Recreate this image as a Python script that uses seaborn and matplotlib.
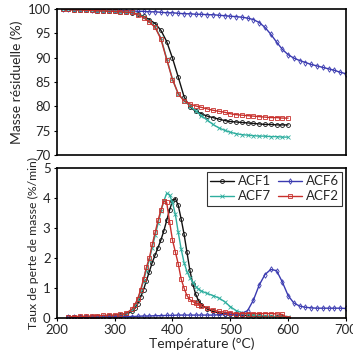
import numpy as np
import pandas as pd
import matplotlib
matplotlib.use("Agg")
import matplotlib.pyplot as plt
import seaborn as sns

# ---- mass loss (TG) ----
t_tg = [210, 220, 230, 240, 250, 260, 270, 280, 290, 300, 310, 320, 330, 340, 350,
        360, 370, 380, 390, 400, 410, 420, 430, 440, 450, 460, 470, 480, 490, 500,
        510, 520, 530, 540, 550, 560, 570, 580, 590, 600]
tg_acf1 = [100, 99.9, 99.8, 99.8, 99.7, 99.7, 99.6, 99.6, 99.5, 99.5, 99.4, 99.3, 99.2, 98.9, 98.5,
           97.8, 97.0, 95.6, 93.3, 89.9, 86.0, 82.0, 79.9, 79.0, 78.5, 78.0, 77.7, 77.4, 77.1, 76.9,
           76.8, 76.7, 76.6, 76.5, 76.4, 76.3, 76.3, 76.2, 76.2, 76.2]
tg_acf2 = [100, 99.9, 99.8, 99.8, 99.7, 99.7, 99.6, 99.6, 99.5, 99.5, 99.4, 99.3, 99.3, 98.8, 98.2,
           97.3, 96.2, 93.8, 89.6, 85.5, 82.6, 81.1, 80.5, 80.1, 79.8, 79.5, 79.2, 79.0, 78.8, 78.5,
           78.3, 78.2, 78.1, 78.0, 77.9, 77.8, 77.7, 77.7, 77.6, 77.6]
tg_acf7 = [100, 99.9, 99.8, 99.8, 99.7, 99.7, 99.6, 99.6, 99.5, 99.5, 99.4, 99.3, 99.3, 98.9, 98.3,
           97.5, 96.3, 94.0, 89.8, 85.6, 82.5, 81.2, 80.1, 79.1, 78.1, 77.2, 76.3, 75.6, 75.1, 74.7,
           74.4, 74.2, 74.1, 74.0, 73.9, 73.9, 73.8, 73.8, 73.7, 73.7]
t_tg6 = [210, 220, 230, 240, 250, 260, 270, 280, 290, 300, 310, 320, 330, 340, 350, 360,
         370, 380, 390, 400, 410, 420, 430, 440, 450, 460, 470, 480, 490, 500, 510, 520,
         530, 540, 550, 560, 570, 580, 590, 600, 610, 620, 630, 640, 650, 660, 670, 680,
         690, 700]
tg_acf6 = [100, 100, 99.9, 99.9, 99.9, 99.8, 99.8, 99.8, 99.7, 99.7, 99.7, 99.6, 99.6, 99.5, 99.5, 99.4,
           99.4, 99.3, 99.2, 99.2, 99.1, 99.0, 99.0, 98.9, 98.9, 98.8, 98.8, 98.7, 98.6, 98.5, 98.4, 98.3,
           98.1, 97.8, 97.2, 96.2, 94.8, 93.2, 91.7, 90.6, 89.9, 89.4, 89.0, 88.6, 88.3, 88.0, 87.7, 87.4,
           87.0, 86.7]

# ---- rate of mass loss (DTG) ----
t_dtg = [220, 230, 240, 250, 260, 270, 280, 290, 300, 310, 320,
         330, 335, 340, 345, 350, 355, 360, 365, 370, 375, 380, 385, 390, 395, 400,
         405, 410, 415, 420, 425, 430, 435, 440, 445, 450,
         460, 470, 480, 490, 500, 510, 520, 530, 540, 550, 560, 570, 580, 590, 600]
dtg_acf1 = [0.02, 0.03, 0.03, 0.04, 0.04, 0.05, 0.05, 0.06, 0.07, 0.09, 0.13,
            0.22, 0.32, 0.48, 0.7, 0.95, 1.25, 1.55, 1.85, 2.1, 2.35, 2.6, 2.9, 3.25, 3.6, 3.9,
            3.98, 3.75, 3.3, 2.8, 2.2, 1.6, 1.15, 0.8, 0.58, 0.45,
            0.3, 0.22, 0.17, 0.14, 0.12, 0.1, 0.1, 0.08, 0.07, 0.06, 0.05, 0.05, 0.04, 0.03, 0.0]
dtg_acf2 = [0.03, 0.05, 0.06, 0.06, 0.07, 0.08, 0.09, 0.1, 0.1, 0.12, 0.16,
            0.3, 0.45, 0.65, 0.95, 1.3, 1.7, 2.0, 2.45, 2.85, 3.25, 3.6, 3.9, 3.85, 3.2, 2.6,
            2.2, 1.8, 1.3, 1.0, 0.75, 0.62, 0.55, 0.5, 0.45, 0.4,
            0.33, 0.27, 0.22, 0.2, 0.17, 0.15, 0.15, 0.15, 0.15, 0.15, 0.15, 0.15, 0.14, 0.12, 0.0]
dtg_acf7 = [0.02, 0.03, 0.04, 0.04, 0.05, 0.06, 0.06, 0.07, 0.08, 0.1, 0.15,
            0.28, 0.42, 0.62, 0.9, 1.25, 1.6, 1.95, 2.35, 2.75, 3.15, 3.55, 3.9, 4.15, 4.1, 3.85,
            3.45, 2.85, 2.3, 1.85, 1.55, 1.35, 1.2, 1.05, 0.97, 0.9,
            0.82, 0.75, 0.67, 0.55, 0.38, 0.25, 0.18, 0.13, 0.1, 0.08, 0.07, 0.06, 0.05, 0.05, 0.03]
t_dtg6 = [220, 230, 240, 250, 260, 270, 280, 290, 300, 310, 320, 330, 340, 350, 360,
          370, 380, 390, 400, 410, 420, 430, 440, 450, 460, 470, 480, 490, 500, 510,
          520, 530, 540, 550, 560, 570, 580, 590, 600, 610, 620, 630, 640, 650, 660,
          670, 680, 690, 700]
dtg_acf6 = [0.02, 0.02, 0.03, 0.03, 0.03, 0.03, 0.03, 0.04, 0.04, 0.04, 0.05, 0.05, 0.06, 0.07, 0.07,
            0.08, 0.08, 0.09, 0.09, 0.1, 0.1, 0.1, 0.1, 0.1, 0.1, 0.1, 0.11, 0.12, 0.12, 0.13,
            0.15, 0.25, 0.6, 1.1, 1.45, 1.62, 1.58, 1.2, 0.75, 0.5, 0.4, 0.36, 0.34, 0.33, 0.33,
            0.33, 0.33, 0.33, 0.32]

c_acf1 = "#111111"
c_acf6 = "#3a3ab0"
c_acf7 = "#2fae9f"
c_acf2 = "#c8302c"

sns.set_theme(style="white")
plt.rcParams["font.family"] = ["Lato", "DejaVu Sans"]
fs = 10

fig = plt.figure(figsize=(3.53, 3.55), dpi=100)
ax1 = fig.add_axes([0.161, 0.563, 0.819, 0.412])
ax2 = fig.add_axes([0.161, 0.104, 0.819, 0.423])


def draw(ax, x, y, color, marker, label=None):
    sns.lineplot(x=x, y=y, ax=ax, color=color, marker=marker, label=label,
                 lw=1.0, markersize=2.8, markerfacecolor="none",
                 markeredgecolor=color, markeredgewidth=0.6)


draw(ax1, t_tg, tg_acf1, c_acf1, "o")
draw(ax1, t_tg6, tg_acf6, c_acf6, "d")
draw(ax1, t_tg, tg_acf7, c_acf7, "x")
draw(ax1, t_tg, tg_acf2, c_acf2, "s")

draw(ax2, t_dtg, dtg_acf1, c_acf1, "o", "ACF1")
draw(ax2, t_dtg, dtg_acf7, c_acf7, "x", "ACF7")
draw(ax2, t_dtg6, dtg_acf6, c_acf6, "d", "ACF6")
draw(ax2, t_dtg, dtg_acf2, c_acf2, "s", "ACF2")

ax1.set_xlim(200, 700)
ax1.set_ylim(70, 100)
ax1.set_yticks(range(70, 101, 5))
ax1.set_xticks([])
ax1.set_ylabel("Masse résiduelle (%)", fontsize=fs, labelpad=3)

ax2.set_xlim(200, 700)
ax2.set_ylim(0, 5)
ax2.set_xticks(range(200, 701, 100))
ax2.set_yticks(range(0, 6))
ax2.set_xlabel("Température (°C)", fontsize=fs, labelpad=1)
ax2.set_ylabel("Taux de perte de masse (%/min)", fontsize=8.8, labelpad=3)

for ax in (ax1, ax2):
    for s in ax.spines.values():
        s.set_color("black")
        s.set_linewidth(1.2)
    ax.tick_params(axis="both", labelsize=9.5, length=2.5, width=0.8,
                   direction="out", color="black", pad=2)
    ax.tick_params(left=True, bottom=True)

leg = ax2.legend(ncol=2, loc="upper right", fontsize=9.5, frameon=True,
                 fancybox=False, edgecolor="black", borderpad=0.25,
                 handlelength=1.8, handletextpad=0.3, columnspacing=0.5,
                 labelspacing=0.25, borderaxespad=0.3)
leg.get_frame().set_linewidth(0.8)

fig.savefig("out.png", dpi=100)
